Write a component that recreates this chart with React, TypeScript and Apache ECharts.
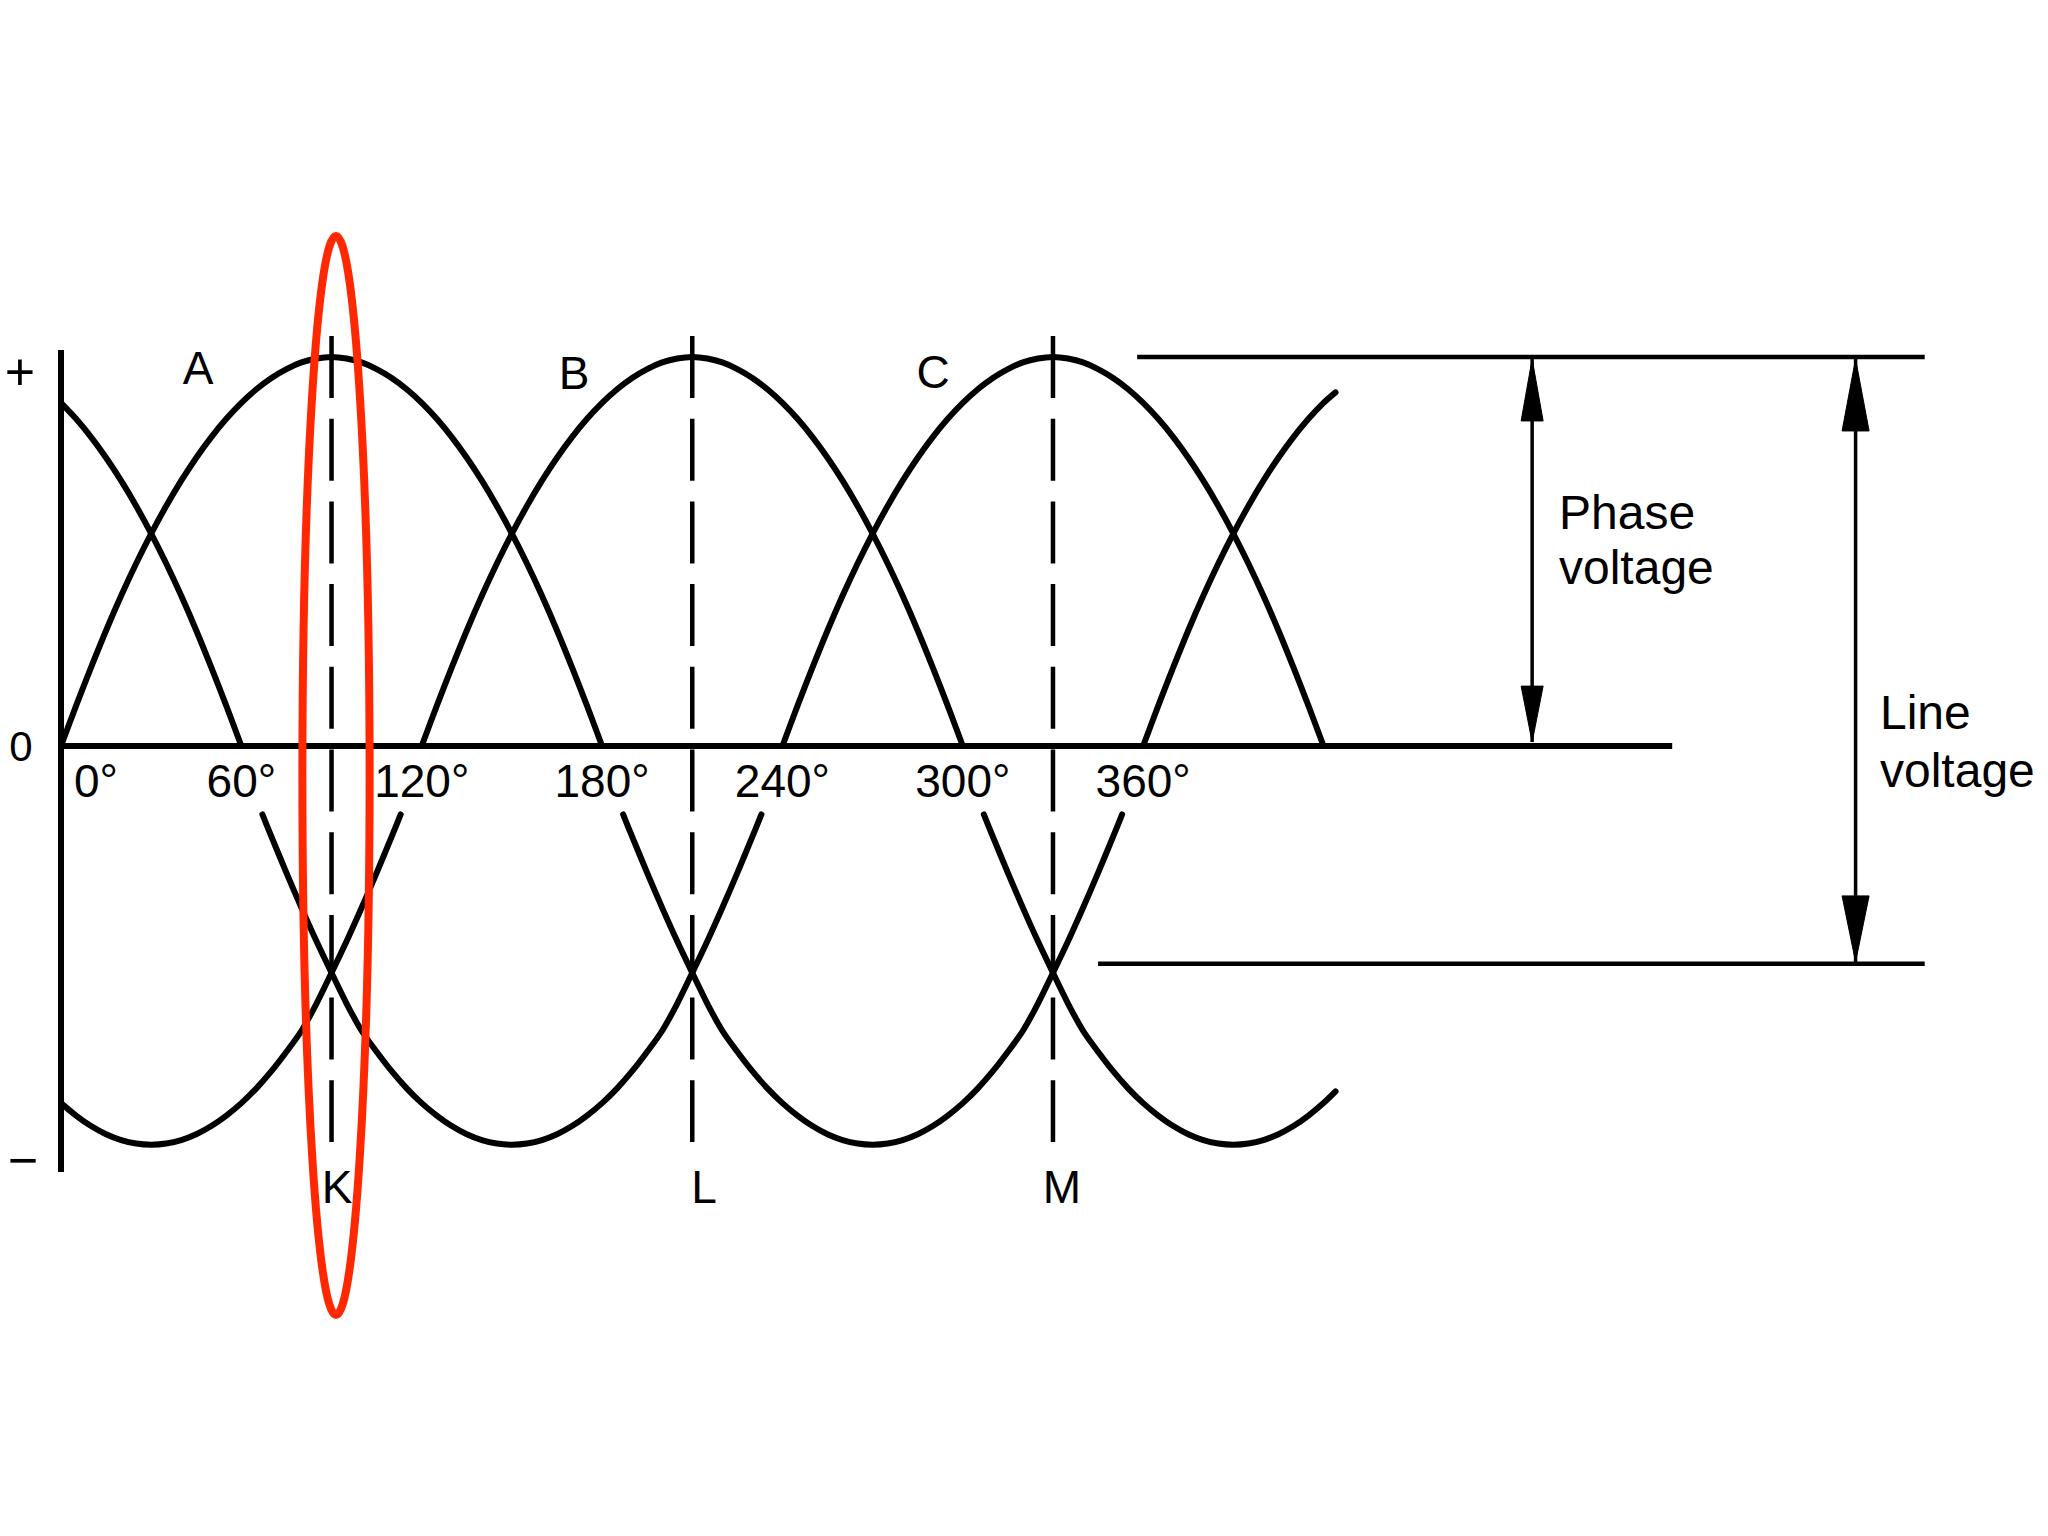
import React, { useEffect, useRef } from 'react';
import * as echarts from 'echarts';

// ---- axis tick labels (degrees) ----
const degreeTicks = [0, 60, 120, 180, 240, 300, 360];
const degreeLabels = ['0°', '60°', '120°', '180°', '240°', '300°', '360°'];

// ---- positive half-waves [deg, % of phase peak] ----
const upperCPrev = [[0, 88.2], [5, 84.1], [10, 79.4], [15, 74.1], [20, 68.2], [25, 61.7], [30, 54.6], [35, 46.9], [40, 38.6], [45, 29.7], [50, 20.2], [55, 10.3], [60, 0]];
const upperA = [[0, 0], [5, 10.3], [10, 20.2], [15, 29.7], [20, 38.6], [25, 46.9], [30, 54.6], [35, 61.7], [40, 68.2], [45, 74.1], [50, 79.4], [55, 84.1], [60, 88.2], [65, 91.7], [70, 94.6], [75, 96.9], [80, 98.6], [85, 99.6], [90, 100], [95, 99.6], [100, 98.6], [105, 96.9], [110, 94.6], [115, 91.7], [120, 88.2], [125, 84.1], [130, 79.4], [135, 74.1], [140, 68.2], [145, 61.7], [150, 54.6], [155, 46.9], [160, 38.6], [165, 29.7], [170, 20.2], [175, 10.3], [180, 0]];
const upperB = [[120, 0], [125, 10.3], [130, 20.2], [135, 29.7], [140, 38.6], [145, 46.9], [150, 54.6], [155, 61.7], [160, 68.2], [165, 74.1], [170, 79.4], [175, 84.1], [180, 88.2], [185, 91.7], [190, 94.6], [195, 96.9], [200, 98.6], [205, 99.6], [210, 100], [215, 99.6], [220, 98.6], [225, 96.9], [230, 94.6], [235, 91.7], [240, 88.2], [245, 84.1], [250, 79.4], [255, 74.1], [260, 68.2], [265, 61.7], [270, 54.6], [275, 46.9], [280, 38.6], [285, 29.7], [290, 20.2], [295, 10.3], [300, 0]];
const upperC = [[240, 0], [245, 10.3], [250, 20.2], [255, 29.7], [260, 38.6], [265, 46.9], [270, 54.6], [275, 61.7], [280, 68.2], [285, 74.1], [290, 79.4], [295, 84.1], [300, 88.2], [305, 91.7], [310, 94.6], [315, 96.9], [320, 98.6], [325, 99.6], [330, 100], [335, 99.6], [340, 98.6], [345, 96.9], [350, 94.6], [355, 91.7], [360, 88.2], [365, 84.1], [370, 79.4], [375, 74.1], [380, 68.2], [385, 61.7], [390, 54.6], [395, 46.9], [400, 38.6], [405, 29.7], [410, 20.2], [415, 10.3], [420, 0]];
const upperANext = [[360, 0], [365, 10.3], [370, 20.2], [375, 29.7], [380, 38.6], [385, 46.9], [390, 54.6], [395, 61.7], [400, 68.2], [405, 74.1], [410, 79.4], [415, 84.1], [420, 88.2], [424, 90.9]];

// ---- negative half-waves ----
const lowerBPrev = [[0, -91.8], [5, -95], [10, -97.7], [15, -99.8], [20, -101.3], [25, -102.2], [30, -102.5], [35, -102.2], [40, -101.3], [45, -99.8], [50, -97.7], [55, -95], [60, -91.8], [65, -88], [70, -83.6], [75, -78.6], [80, -73.2], [85, -66.2], [90, -58.3], [95, -50.2], [100, -41.6], [105, -32.6], [110, -23.3], [113, -17.6]];
const lowerC = [[67, -17.6], [70, -23.3], [75, -32.6], [80, -41.6], [85, -50.2], [90, -58.3], [95, -66.2], [100, -73.2], [105, -78.6], [110, -83.6], [115, -88], [120, -91.8], [125, -95], [130, -97.7], [135, -99.8], [140, -101.3], [145, -102.2], [150, -102.5], [155, -102.2], [160, -101.3], [165, -99.8], [170, -97.7], [175, -95], [180, -91.8], [185, -88], [190, -83.6], [195, -78.6], [200, -73.2], [205, -66.2], [210, -58.3], [215, -50.2], [220, -41.6], [225, -32.6], [230, -23.3], [233, -17.6]];
const lowerA = [[187, -17.6], [190, -23.3], [195, -32.6], [200, -41.6], [205, -50.2], [210, -58.3], [215, -66.2], [220, -73.2], [225, -78.6], [230, -83.6], [235, -88], [240, -91.8], [245, -95], [250, -97.7], [255, -99.8], [260, -101.3], [265, -102.2], [270, -102.5], [275, -102.2], [280, -101.3], [285, -99.8], [290, -97.7], [295, -95], [300, -91.8], [305, -88], [310, -83.6], [315, -78.6], [320, -73.2], [325, -66.2], [330, -58.3], [335, -50.2], [340, -41.6], [345, -32.6], [350, -23.3], [353, -17.6]];
const lowerB = [[307, -17.6], [310, -23.3], [315, -32.6], [320, -41.6], [325, -50.2], [330, -58.3], [335, -66.2], [340, -73.2], [345, -78.6], [350, -83.6], [355, -88], [360, -91.8], [365, -95], [370, -97.7], [375, -99.8], [380, -101.3], [385, -102.2], [390, -102.5], [395, -102.2], [400, -101.3], [405, -99.8], [410, -97.7], [415, -95], [420, -91.8], [424, -88.8]];

// ---- reference lines ----
const verticalAxisLine = [[0, -109.5], [0, 101.8]];
const zeroLine = [[0, 0], [536, 0]];
const phasePeakLine = [[358, 100], [620, 100]];
const linePeakLine = [[345, -56], [620, -56]];
const markerDegrees = [90, 210, 330];
const markerTop = 105.4;
const markerBottom = -101.8;

// ---- dimension arrows: [x deg, from, to] ----
const phaseArrow = [489.4, 99.5, 1];
const lineArrow = [597, 99.5, -55.5];

const FONT = '"Liberation Sans", Arial, sans-serif';
const BLACK = '#000000';

export default function App() {
  const ref = useRef<HTMLDivElement>(null);

  useEffect(() => {
    if (!ref.current) return;
    const chart = echarts.init(ref.current, undefined, { renderer: 'svg' });

    const curve = (name: string, data: number[][]) => ({
      name,
      type: 'line',
      data,
      smooth: 0.3,
      symbol: 'none',
      clip: false,
      silent: true,
      lineStyle: { color: BLACK, width: 6, join: 'round', cap: 'round' },
      z: 3,
    });
    const straight = (name: string, data: number[][], width: number, type: any = 'solid') => ({
      name,
      type: 'line',
      data,
      smooth: false,
      symbol: 'none',
      clip: false,
      silent: true,
      lineStyle: { color: BLACK, width, type, cap: 'butt' },
      z: 2,
    });

    // arrowhead sizes per arrow [width, length] in px
    const headSizes = [[22, 62], [22, 56], [27, 72], [27, 66]];
    const arrowHeads = [
      [phaseArrow[0], phaseArrow[1], 1],
      [phaseArrow[0], phaseArrow[2], -1],
      [lineArrow[0], lineArrow[1], 1],
      [lineArrow[0], lineArrow[2], -1],
    ];

    const option: any = {
      animation: false,
      backgroundColor: '#ffffff',
      grid: {
        left: 61,
        right: 33.1,
        top: 279.2,
        bottom: 323.2,
        containLabel: false,
        outerBoundsMode: 'none',
      },
      xAxis: {
        type: 'value',
        position: 'bottom',
        offset: -466.8,
        min: 0,
        max: 650,
        interval: 60,
        axisLine: { show: false, onZero: false },
        axisTick: { show: false },
        splitLine: { show: false },
        axisLabel: {
          show: true,
          margin: 12,
          color: BLACK,
          fontSize: 46,
          fontFamily: FONT,
          hideOverlap: false,
          showMinLabel: true,
          formatter: (v: number) => {
            const i = degreeTicks.indexOf(v);
            if (i < 0) return '';
            return i === 0 ? '{first|' + degreeLabels[0] + '}' : degreeLabels[i];
          },
          rich: {
            first: { fontSize: 46, fontFamily: FONT, color: BLACK, padding: [0, 0, 0, 70] },
          },
        },
      },
      yAxis: {
        type: 'value',
        min: -120,
        max: 120,
        axisLine: { show: false },
        axisTick: { show: false },
        axisLabel: { show: false },
        splitLine: { show: false },
      },
      series: [
        straight('axis', verticalAxisLine, 6),
        straight('zero', zeroLine, 6),
        straight('phasePeak', phasePeakLine, 4.5),
        straight('linePeak', linePeakLine, 4.5),
        straight('phaseArrowShaft', [[phaseArrow[0], phaseArrow[1]], [phaseArrow[0], phaseArrow[2]]], 3.5),
        straight('lineArrowShaft', [[lineArrow[0], lineArrow[1]], [lineArrow[0], lineArrow[2]]], 3.5),
        ...markerDegrees.map((d, i) =>
          straight('marker' + i, [[d, markerTop], [d, markerBottom]], 4.5, [62, 20.7])
        ),
        curve('C+ prev', upperCPrev),
        curve('A+', upperA),
        curve('B+', upperB),
        curve('C+', upperC),
        curve('A+ next', upperANext),
        curve('B- prev', lowerBPrev),
        curve('C-', lowerC),
        curve('A-', lowerA),
        curve('B-', lowerB),
        {
          name: 'arrowheads',
          type: 'custom',
          silent: true,
          z: 4,
          data: arrowHeads,
          renderItem: (params: any, api: any) => {
            const p = api.coord([api.value(0), api.value(1)]);
            const dir = api.value(2);
            const [w, len] = headSizes[params.dataIndex];
            const base = p[1] + dir * len;
            return {
              type: 'polygon',
              shape: { points: [[p[0], p[1]], [p[0] - w / 2, base], [p[0] + w / 2, base]] },
              style: { fill: BLACK, stroke: BLACK, lineWidth: 1 },
            };
          },
        },
      ],
      graphic: [
        { type: 'text', x: 20, y: 372, style: { text: '+', fontSize: 52, fontFamily: FONT, fill: BLACK, align: 'center', verticalAlign: 'middle' } },
        { type: 'text', x: 21, y: 746, style: { text: '0', fontSize: 42, fontFamily: FONT, fill: BLACK, align: 'center', verticalAlign: 'middle' } },
        { type: 'text', x: 23, y: 1160, style: { text: '−', fontSize: 52, fontFamily: FONT, fill: BLACK, align: 'center', verticalAlign: 'middle' } },
        { type: 'text', x: 198, y: 368, style: { text: 'A', fontSize: 46, fontFamily: FONT, fill: BLACK, align: 'center', verticalAlign: 'middle' } },
        { type: 'text', x: 574, y: 373, style: { text: 'B', fontSize: 46, fontFamily: FONT, fill: BLACK, align: 'center', verticalAlign: 'middle' } },
        { type: 'text', x: 933, y: 372, style: { text: 'C', fontSize: 46, fontFamily: FONT, fill: BLACK, align: 'center', verticalAlign: 'middle' } },
        { type: 'text', x: 337, y: 1187, style: { text: 'K', fontSize: 46, fontFamily: FONT, fill: BLACK, align: 'center', verticalAlign: 'middle' } },
        { type: 'text', x: 704, y: 1187, style: { text: 'L', fontSize: 46, fontFamily: FONT, fill: BLACK, align: 'center', verticalAlign: 'middle' } },
        { type: 'text', x: 1062, y: 1187, style: { text: 'M', fontSize: 46, fontFamily: FONT, fill: BLACK, align: 'center', verticalAlign: 'middle' } },
        { type: 'text', x: 1559, y: 512, style: { text: 'Phase', fontSize: 48, fontFamily: FONT, fill: BLACK, align: 'left', verticalAlign: 'middle' } },
        { type: 'text', x: 1559, y: 567, style: { text: 'voltage', fontSize: 48, fontFamily: FONT, fill: BLACK, align: 'left', verticalAlign: 'middle' } },
        { type: 'text', x: 1880, y: 712, style: { text: 'Line', fontSize: 48, fontFamily: FONT, fill: BLACK, align: 'left', verticalAlign: 'middle' } },
        { type: 'text', x: 1880, y: 770, style: { text: 'voltage', fontSize: 48, fontFamily: FONT, fill: BLACK, align: 'left', verticalAlign: 'middle' } },
        {
          type: 'ellipse',
          z: 100,
          shape: { cx: 336, cy: 775.5, rx: 33.6, ry: 539.5 },
          style: { fill: 'none', stroke: '#ff2800', lineWidth: 8 },
        },
      ],
    };

    chart.setOption(option);
    return () => {
      chart.dispose();
    };
  }, []);

  return (
    <div
      ref={ref}
      style={{ position: 'fixed', left: 0, top: 0, width: 2048, height: 1536, background: '#ffffff' }}
    />
  );
}
